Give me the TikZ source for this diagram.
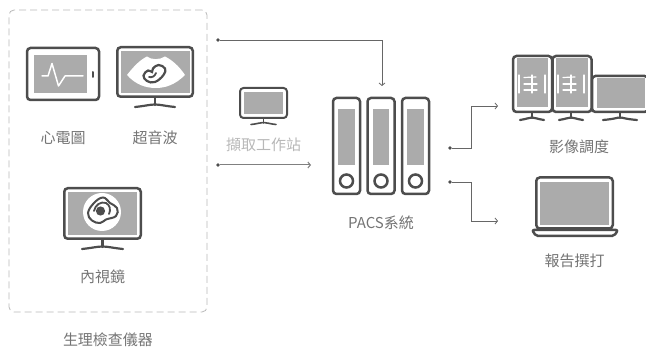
\documentclass[tikz,border=0pt]{standalone}
\usepackage{fontspec}
\usepackage{xcolor}
\setmainfont{Noto Sans CJK TC}
\usetikzlibrary{positioning, arrows.meta}
\definecolor{icondark}{HTML}{4D4D4D}
\definecolor{icongray}{HTML}{ABABAB}
\definecolor{labelgray}{HTML}{747474}
\definecolor{wiregray}{HTML}{666666}
\tikzset{
    frame/.style = {draw=icondark, line width=2.5pt, rounded corners=3.5pt, fill=white, inner sep=0pt, outer sep=0pt},
    screen/.style = {fill=icongray, inner sep=0pt, outer sep=0pt},
    stand/.style = {draw=icondark, line width=2.2pt, line cap=round},
    iconlabel/.style = {text=labelgray, font=\fontsize{15}{18}\selectfont, inner sep=0pt},
    dot/.style = {circle, fill=icondark, inner sep=0pt, minimum size=3.6pt},
    wire/.style = {draw=wiregray, line width=0.8pt, ->, >={Straight Barb[length=2.5pt,width=6pt]}},
    whiteline/.style = {draw=white, line width=1.6pt, line cap=round},
}
\begin{document}
\begin{tikzpicture}[x=1pt, y=-1pt]
    \useasboundingbox (0,0) rectangle (646,347);
    % instruments box
    \node [draw=black!28, dashed, line width=0.8pt, rounded corners=5pt, minimum width=198pt, minimum height=302pt, inner sep=0pt, dash pattern=on 7pt off 4pt] (instruments) at (108,161) {};
    \node [iconlabel, below = 20pt of instruments] (instrumentslabel) {生理檢查儀器};

    % ecg tablet
    \node [frame, minimum width=72pt, minimum height=52pt] (ecg) at (63,74) {};
    \node [screen, minimum width=53pt, minimum height=38pt] (ecgscreen) at (60.5,74) {};
    \draw [whiteline, line width=1.5pt, line join=round] (42,76) -- (48,76) -- (52,63.5) -- (58.5,86) -- (65,76) -- (83,76);
    \draw [stand, line width=2pt] (93,72) -- (93,77);
    \node [iconlabel, below = 31pt of ecg] (ecglabel) {心電圖};

    % ultrasound monitor
    \node [frame, minimum width=75.5pt, minimum height=49.5pt] (ultrasound) at (155,72) {};
    \node [screen, minimum width=69pt, minimum height=42pt] (ultrasoundscreen) at (155.5,72) {};
    \fill [white] (127,75) .. controls (134,66) and (140,60) .. (147,56.5) .. controls (151,60) and (160,60) .. (165,56.5) .. controls (172,60) and (179,66) .. (185,75) .. controls (175,85) and (165,88) .. (156,88) .. controls (146,88) and (136,85) .. (127,75) -- cycle;
    \draw [stand, line width=2.2pt] plot [smooth cycle, tension=0.7] coordinates {(153,68.5) (158.5,65) (165,68.5) (163.5,75) (155,82) (147,81) (143.5,75.5) (148,70.5) (152,72)};
    \draw [stand, line width=1.8pt] (149,77) .. controls (152,78) and (155,76) .. (156,73);
    \draw [stand] (155,98) -- (155,105);
    \draw [stand] (135,107) .. controls (145,106) and (150,104.5) .. (155,104.5) .. controls (160,104.5) and (165,106) .. (175,107);
    \node [iconlabel, below = 34pt of ultrasound] (ultrasoundlabel) {超音波};

    % endoscope monitor
    \node [frame, minimum width=76.5pt, minimum height=50.5pt] (endoscope) at (102.5,213.5) {};
    \node [screen, minimum width=69pt, minimum height=43pt] (endoscopescreen) at (102.5,213.5) {};
    \fill [white] (102,212) circle (19pt);
    \fill [icondark] (100.5,211) circle (4.6pt);
    \draw [stand, line width=2pt] plot [smooth cycle, tension=0.7] coordinates {(94,203) (103,197.5) (110,203) (117,208) (116,216) (106,219.5) (100,223) (92,220.5) (88,213)};
    \draw [stand, line width=1.8pt] (94,211) .. controls (95,205) and (101,201) .. (106,203) .. controls (110,205) and (111,210) .. (109,214);
    \draw [stand] (102.5,240) -- (102.5,247);
    \draw [stand] (82,249) .. controls (92,248) and (97,246.5) .. (102.5,246.5) .. controls (108,246.5) and (113,248) .. (123,249);
    \node [iconlabel, below = 31pt of endoscope] (endoscopelabel) {內視鏡};

    % capture station
    \node [frame, line width=2pt, minimum width=47pt, minimum height=30pt] (station) at (263.5,103) {};
    \node [screen, minimum width=39pt, minimum height=22pt] (stationscreen) at (263.5,103) {};
    \draw [stand, line width=1.6pt] (263.5,118) -- (263.5,123);
    \draw [stand, line width=1.6pt] (251,124.5) .. controls (257,124) and (260,122.5) .. (263.5,122.5) .. controls (267,122.5) and (270,124) .. (276,124.5);
    \node [iconlabel, text=black!28, below = 20pt of station] (stationlabel) {擷取工作站};

    % pacs binders
    \foreach \name/\x in {binderA/346.5, binderB/381, binderC/415.5} {
        \node [frame, minimum width=27pt, minimum height=96pt] (\name) at (\x,146) {};
        \node [screen, minimum width=16.5pt, minimum height=56pt] (\name screen) at (\x,137) {};
        \node [circle, draw=icondark, line width=2.5pt, minimum size=13pt, inner sep=0pt] (\name ring) at (\x,181) {};
    }
    \node [iconlabel, below = 22pt of binderB] (pacslabel) {PACS系統};

    % reading monitors
    \node [frame, minimum width=39pt, minimum height=56pt] (viewA) at (532.5,84) {};
    \node [frame, minimum width=39pt, minimum height=56pt] (viewB) at (572,84) {};
    \node [frame, minimum width=56pt, minimum height=36pt] (viewC) at (620,94) {};
    \node [screen, minimum width=31pt, minimum height=49pt] (viewAscreen) at (532.5,83) {};
    \node [screen, minimum width=32pt, minimum height=49pt] (viewBscreen) at (571.5,83) {};
    \node [screen, minimum width=48pt, minimum height=30pt] (viewCscreen) at (621,93) {};
    \foreach \x in {532,571} {
        \draw [whiteline, line width=1.2pt] (\x-13,75) -- (\x-13,93);
        \draw [whiteline, line width=1.2pt] (\x+13,75) -- (\x+13,93);
        \draw [whiteline, line width=1.2pt] (\x-8,77.5) -- (\x+4,77);
        \draw [whiteline, line width=1.2pt] (\x-8,84) -- (\x+5,84);
        \draw [whiteline, line width=1.2pt] (\x-8,90) -- (\x+5,90);
        \draw [whiteline, line width=1.2pt] (\x,75) -- (\x,93);
    }
    \foreach \x/\w in {532/12, 571/12, 620/17} {
        \draw [stand] (\x,113) -- (\x,118);
        \draw [stand] (\x-\w,120) .. controls (\x-5,119) and (\x-3,117.5) .. (\x,117.5) .. controls (\x+3,117.5) and (\x+5,119) .. (\x+\w,120);
    }
    \node [iconlabel, below = 28pt of viewB.south, xshift=7pt] (viewlabel) {影像調度};

    % report laptop
    \node [frame, minimum width=76.5pt, minimum height=51pt] (laptop) at (574.5,203) {};
    \node [screen, minimum width=69pt, minimum height=43pt] (laptopscreen) at (574.5,203.5) {};
    \draw [stand, line width=2.5pt, line join=round, rounded corners=2pt, fill=white] (532,230) -- (618,230) -- (614,236) -- (536,236) -- cycle;
    \node [iconlabel, below = 25pt of laptop.south] (laptoplabel) {報告撰打};

    % connectors
    \node [dot] (captureout) at (218,40) {};
    \coordinate (pacsin) at (382,86);
    \draw [wire] (captureout) -| (pacsin);
    \node [dot] (stationout) at (218,165) {};
    \coordinate (pacsleft) at (311,165);
    \draw [wire, line width=1pt, draw=gray] (stationout) -- (pacsleft);
    \node [dot] (pacsoutA) at (450,148) {};
    \coordinate (viewin) at (498,106);
    \draw [wire] (pacsoutA) -- ++(21,0) |- (viewin);
    \node [dot] (pacsoutB) at (450,182) {};
    \coordinate (laptopin) at (498,221);
    \draw [wire] (pacsoutB) -- ++(21,0) |- (laptopin);
\end{tikzpicture}
\end{document}
